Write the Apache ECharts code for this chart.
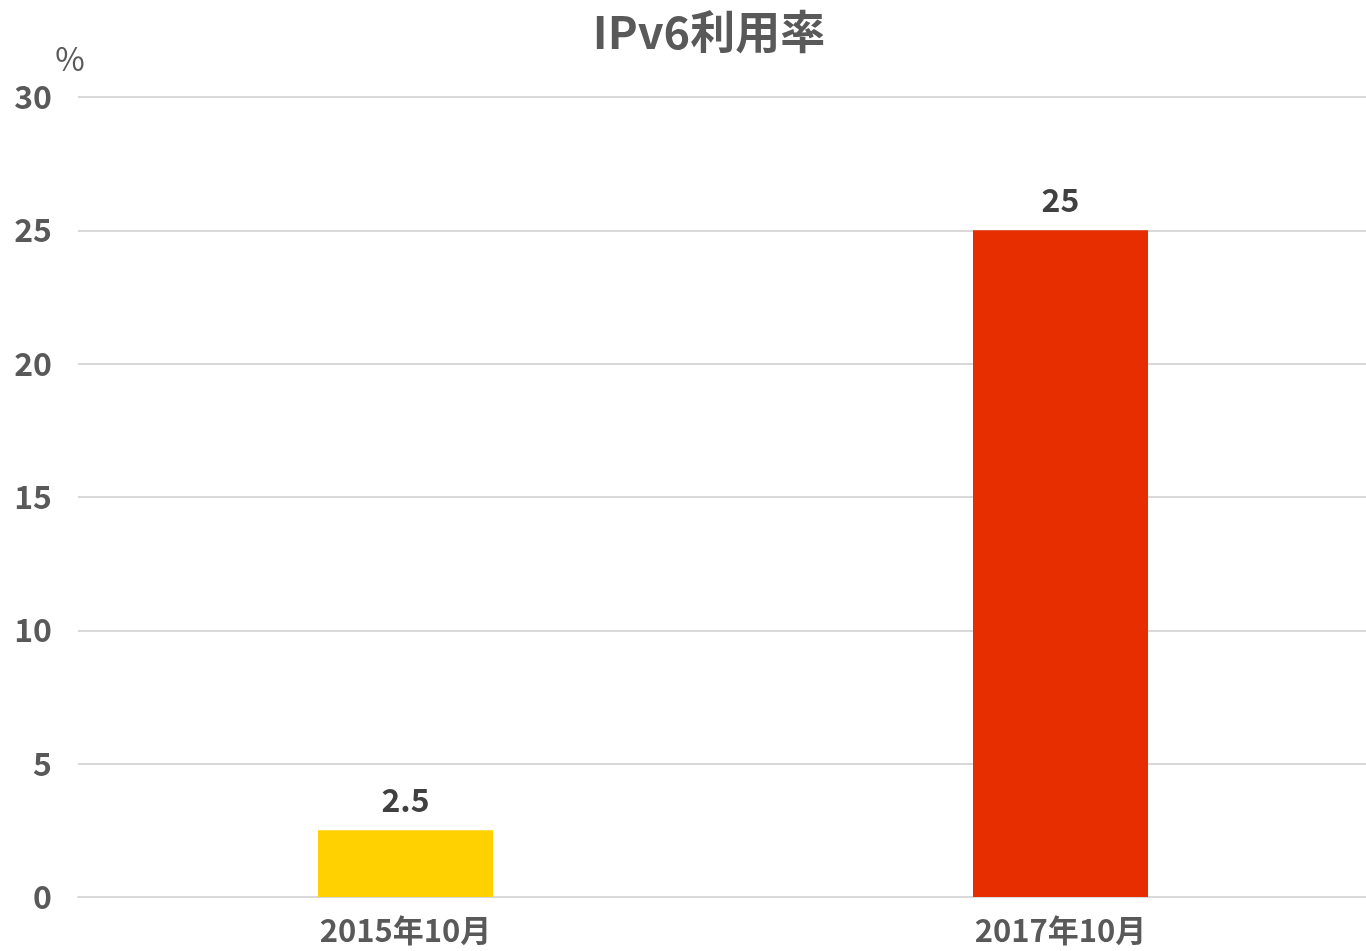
<!DOCTYPE html>
<html>
<head>
<meta charset="utf-8">
<script src="https://cdn.jsdelivr.net/npm/echarts@6/dist/echarts.min.js"></script>
<style>html,body{margin:0;padding:0;background:#fff;}#c{width:1366px;height:951px;}</style>
</head>
<body>
<div id="c"></div>
<script>
const categories = ['2015年10月', '2017年10月'];
const values = [2.5, 25];
const barColors = ['#FFD100', '#E62E00'];
const yTicks = [0, 5, 10, 15, 20, 25, 30];

const font = '"Noto Sans CJK JP", "Noto Sans", sans-serif';
const chart = echarts.init(document.getElementById('c'), null, {renderer: 'canvas'});
chart.setOption({
  backgroundColor: '#ffffff',
  animation: false,
  title: {
    text: 'IPv6利用率',
    left: 704,
    top: 4,
    textAlign: 'center',
    textStyle: {fontFamily: font, fontSize: 45, fontWeight: 'bold', color: '#595959'}
  },
  grid: {left: 78, right: -22, top: 97, bottom: 54, containLabel: false, outerBoundsMode: 'none'},
  xAxis: {
    type: 'category',
    data: categories,
    axisLine: {show: true, lineStyle: {color: '#d9d9d9', width: 2}},
    axisTick: {show: false},
    axisLabel: {fontFamily: font, fontSize: 31, fontWeight: 'bold', color: '#595959', margin: 18}
  },
  yAxis: {
    type: 'value',
    min: yTicks[0],
    max: yTicks[yTicks.length - 1],
    interval: 5,
    name: '%',
    nameLocation: 'end',
    nameGap: 22,
    nameTextStyle: {fontFamily: font, fontSize: 32, color: '#595959', align: 'center', padding: [0, 16, 0, 0]},
    axisLine: {show: false},
    axisTick: {show: false},
    axisLabel: {fontFamily: font, fontSize: 32, fontWeight: 'bold', color: '#595959', margin: 26},
    splitLine: {lineStyle: {color: '#d9d9d9', width: 2}}
  },
  series: [{
    type: 'bar',
    data: values.map((v, i) => ({value: v, itemStyle: {color: barColors[i]}})),
    barWidth: 175,
    label: {
      show: true,
      position: 'top',
      distance: 14,
      fontFamily: font,
      fontSize: 32,
      fontWeight: 'bold',
      color: '#404040'
    }
  }]
});
</script>
</body>
</html>
